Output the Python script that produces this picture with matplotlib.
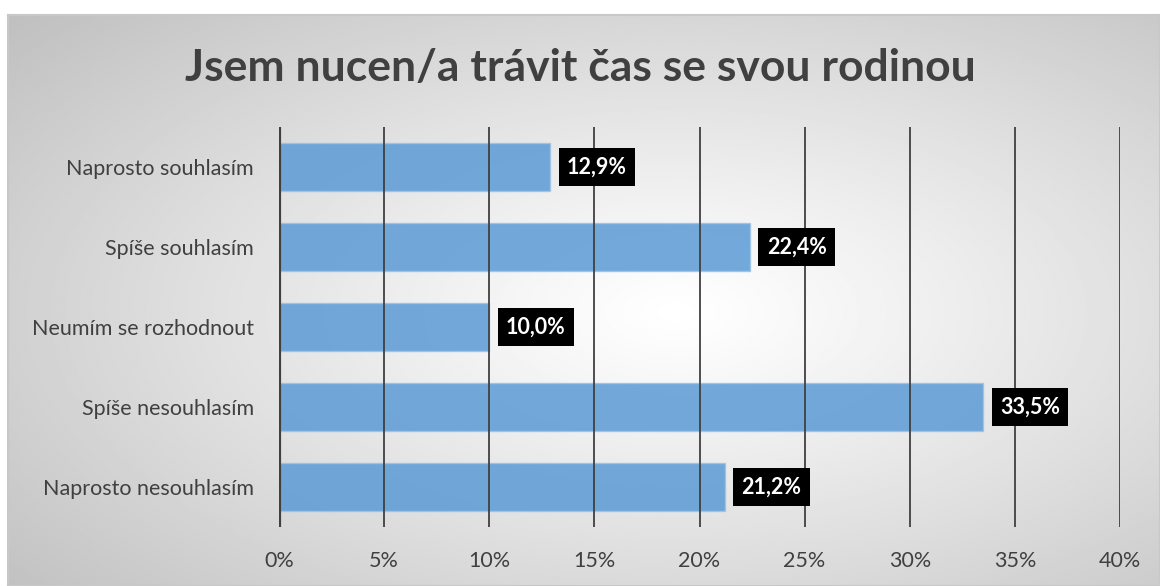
import numpy as np
import matplotlib
matplotlib.use('Agg')
import matplotlib.pyplot as plt
from matplotlib.ticker import MultipleLocator, FuncFormatter

plt.rcParams['font.family'] = ['Lato', 'DejaVu Sans']

# data
categories = ['Naprosto souhlasím', 'Spíše souhlasím', 'Neumím se rozhodnout',
              'Spíše nesouhlasím', 'Naprosto nesouhlasím']
values = [12.9, 22.4, 10.0, 33.5, 21.2]
labels = ['12,9%', '22,4%', '10,0%', '33,5%', '21,2%']
title = 'Jsem nucen/a trávit čas se svou rodinou'

W, H = 1160, 586
fig = plt.figure(figsize=(W / 100, H / 100), dpi=100)
fig.patch.set_facecolor('white')

# gradient background panel
bg = fig.add_axes([8 / W, 0, (W - 8) / W, (H - 15) / H], zorder=0)
yy, xx = np.mgrid[0:300, 0:600]
cx, cy = 0.58 * 600, 0.52 * 300
dist = np.sqrt(((xx - cx) / 600) ** 2 + ((yy - cy) / 300) ** 2)
dist = dist / dist.max()
shade = 1.0 - 0.25 * dist ** 1.1
bg.imshow(shade, cmap='gray', vmin=0, vmax=1, aspect='auto',
          extent=[0, 1, 0, 1], interpolation='bilinear')
bg.set_xticks([])
bg.set_yticks([])
for sp in bg.spines.values():
    sp.set_color('#c8c8c8')
    sp.set_linewidth(1.5)

# main chart
ax = fig.add_axes([279 / W, (H - 527) / H, (1120 - 279) / W, 400 / H], zorder=1)
ax.patch.set_alpha(0)
y = np.arange(len(categories))
ax.barh(y, values, height=0.6, color='#5B9BD5', alpha=0.85,
        edgecolor='#9dc3e6', linewidth=1, zorder=2)
ax.set_xlim(0, 40)
ax.set_ylim(len(categories) - 0.5, -0.5)
ax.xaxis.set_major_locator(MultipleLocator(5))
ax.xaxis.set_major_formatter(FuncFormatter(lambda v, p: f'{v:.0f}%'))
ax.set_yticks(y)
ax.set_yticklabels(categories)
ax.grid(axis='x', color='#404040', linewidth=1.3, zorder=3)
ax.set_axisbelow(False)
ax.tick_params(axis='both', length=0, labelsize=15.5, colors='#404040')
ax.tick_params(axis='y', pad=18)
ax.tick_params(axis='x', pad=17)
for name, sp in ax.spines.items():
    sp.set_visible(False)
ax.axvline(0, color='#404040', linewidth=3, zorder=4)

for yi, v, lab in zip(y, values, labels):
    ax.annotate(lab, (v, yi), xytext=(12, 0), textcoords='offset points',
                va='center', ha='left', color='white', fontsize=15.5,
                fontweight='bold', zorder=5,
                bbox=dict(boxstyle='square,pad=0.38', facecolor='black',
                          edgecolor='none'))

fig.text(0.5, (H - 68) / H, title, ha='center', va='center', fontsize=32,
         fontweight='bold', color='#404040', zorder=5)

fig.savefig('out.png', dpi=100)
